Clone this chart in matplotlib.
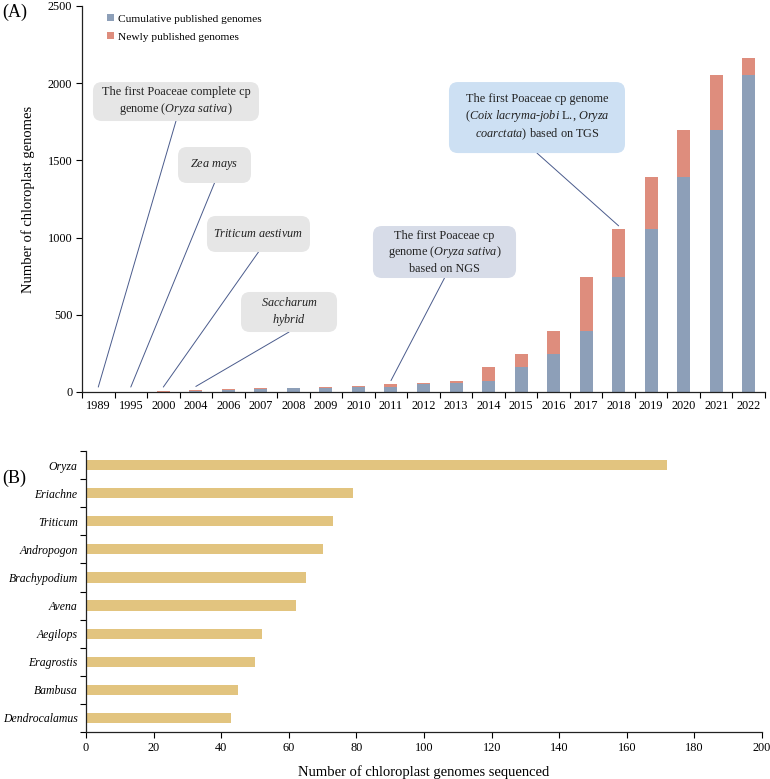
import matplotlib
matplotlib.use("Agg")
import matplotlib.pyplot as plt
from matplotlib.patches import FancyBboxPatch
import numpy as np

plt.rcParams['font.family'] = ['Liberation Serif', 'DejaVu Serif']
plt.rcParams['mathtext.fontset'] = 'custom'
plt.rcParams['mathtext.rm'] = 'Liberation Serif'
plt.rcParams['mathtext.it'] = 'Liberation Serif:italic'

# ---------------- data (panel A) ----------------
years = ['1989', '1995', '2000', '2004', '2006', '2007', '2008', '2009', '2010', '2011',
         '2012', '2013', '2014', '2015', '2016', '2017', '2018', '2019', '2020', '2021', '2022']
cumulative = [0, 1, 2, 4, 13, 20, 23, 27, 34, 35, 50, 60, 71, 160, 246, 397, 747, 1054, 1390, 1699, 2055]
newly = [1, 1, 3, 10, 7, 4, 6, 7, 3, 17, 8, 11, 89, 86, 151, 350, 307, 336, 309, 356, 106]

# ---------------- data (panel B) ----------------
genera = ['Oryza', 'Eriachne', 'Triticum', 'Andropogon', 'Brachypodium', 'Avena',
          'Aegilops', 'Eragrostis', 'Bambusa', 'Dendrocalamus']
genus_counts = [172, 79, 73, 70, 65, 62, 52, 50, 45, 43]

c_cum = '#8D9FB8'
c_new = '#DE8D7D'
c_bar = '#E2C47F'
line_c = '#4A5B8C'

fig = plt.figure(figsize=(7.70, 7.79), dpi=100)

# ---------------- Panel A ----------------
axA = fig.add_axes([82/770, 1-392/779, 683/770, 386/779])
x = np.arange(len(years))
axA.bar(x, cumulative, width=0.4, color=c_cum, label='Cumulative published genomes')
axA.bar(x, newly, width=0.4, bottom=cumulative, color=c_new, label='Newly published genomes')
axA.set_xlim(-0.5, len(years) - 0.5)
axA.set_ylim(0, 2500)
axA.set_yticks([0, 500, 1000, 1500, 2000, 2500])
axA.set_xticks(x)
axA.set_xticklabels(years)
axA.set_xticks(np.arange(-0.5, len(years)), minor=True)
axA.tick_params(axis='x', which='major', length=0, pad=6, labelsize=8.8)
axA.tick_params(axis='x', which='minor', length=4, direction='out', width=0.8)
axA.tick_params(axis='y', length=4, direction='out', width=0.8, labelsize=8.8, pad=3)
for s in ['top', 'right']:
    axA.spines[s].set_visible(False)
for s in ['left', 'bottom']:
    axA.spines[s].set_linewidth(0.9)
    axA.spines[s].set_color('#222222')
axA.set_ylabel('Number of chloroplast genomes', fontsize=10.5, labelpad=9)
leg = axA.legend(loc='upper left', bbox_to_anchor=(0.025, 1.0), frameon=False,
                 fontsize=8.2, handlelength=0.6, handleheight=0.6, handletextpad=0.4,
                 labelspacing=0.75, borderaxespad=0.3)
fig.text(2/770, 1-12/779, '(A)', fontsize=13, va='center', ha='left')

total = [c + n for c, n in zip(cumulative, newly)]

# annotation boxes: (text, box in axes fraction [x0, x1, y0, y1], facecolor, target index)
annots = [
    ('The first Poaceae complete cp\ngenome ($\\it{Oryza\\ sativa}$)', (0.0161, 0.2591, 0.702, 0.803), '#E6E6E6', 0),
    ('$\\it{Zea\\ mays}$', (0.1406, 0.2474, 0.5415, 0.6347), '#E6E6E6', 1),
    ('$\\it{Triticum\\ aestivum}$', (0.183, 0.3338, 0.3627, 0.456), '#E6E6E6', 2),
    ('$\\it{Saccharum}$\n$\\it{hybrid}$', (0.2328, 0.3734, 0.1554, 0.2591), '#E6E6E6', 3),
    ('The first Poaceae cp\ngenome ($\\it{Oryza\\ sativa}$)\nbased on NGS', (0.426, 0.6355, 0.2953, 0.43), '#D7DCE8', 9),
    ('The first Poaceae cp genome\n($\\it{Coix\\ lacryma}$-$\\it{jobi}$ L., $\\it{Oryza}$\n$\\it{coarctata}$) based on TGS', (0.5373, 0.795, 0.619, 0.803), '#CDE0F3', 16),
]
aspect = 683/386
for txt, (x0, x1, y0, y1), fc, idx in annots:
    box = FancyBboxPatch((x0, y0), x1 - x0, y1 - y0, transform=axA.transAxes,
                         boxstyle='round,pad=0,rounding_size=0.013', mutation_aspect=aspect,
                         facecolor=fc, edgecolor='none', zorder=3, clip_on=False)
    axA.add_patch(box)
    axA.text((x0 + x1) / 2, (y0 + y1) / 2, txt, transform=axA.transAxes, ha='center',
             va='center', fontsize=8.8, color='#222222', linespacing=1.25, zorder=4)
    ytarget = max(total[idx] + 22, 32)
    axA.annotate('', xy=(idx, ytarget), xycoords='data',
                 xytext=((x0 + x1) / 2, y0), textcoords='axes fraction',
                 arrowprops=dict(arrowstyle='-', color=line_c, lw=0.7,
                                 shrinkA=0, shrinkB=0), zorder=2)

# ---------------- Panel B ----------------
axB = fig.add_axes([86/770, 1-732/779, 676/770, 281/779])
yb = np.arange(len(genera))[::-1]
axB.barh(yb, genus_counts, height=0.36, color=c_bar)
axB.set_ylim(-0.5, len(genera) - 0.5)
axB.set_xlim(0, 200)
axB.set_xticks(np.arange(0, 201, 20))
axB.set_yticks(yb)
axB.set_yticklabels(genera, fontstyle='italic')
axB.set_yticks(np.arange(-0.5, len(genera)), minor=True)
axB.tick_params(axis='y', which='major', length=0, pad=6, labelsize=8.5)
axB.tick_params(axis='y', which='minor', length=4, direction='out', width=0.8)
axB.tick_params(axis='x', length=4, direction='out', width=0.8, labelsize=8.8, pad=3)
for s in ['top', 'right']:
    axB.spines[s].set_visible(False)
for s in ['left', 'bottom']:
    axB.spines[s].set_linewidth(0.9)
    axB.spines[s].set_color('#222222')
axB.set_xlabel('Number of chloroplast genomes sequenced', fontsize=10.5, labelpad=8)
fig.text(2/770, 1-478/779, '(B)', fontsize=13, va='center', ha='left')

fig.savefig('out.png', dpi=100)
